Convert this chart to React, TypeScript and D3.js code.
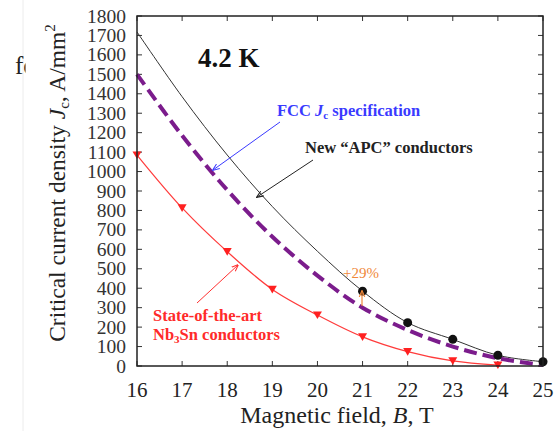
import React from "react";
import * as d3 from "d3";

const fields = [16, 17, 18, 19, 20, 21, 22, 23, 24, 25];
const apcCurve = [1718, 1385, 1085, 820, 590, 385, 223, 137, 55, 22];
const apcMarkerFields = [21, 22, 23, 24, 25];
const apcMarkers = [385, 223, 137, 55, 22];
const fccSpec = [1500, 1185, 905, 665, 465, 300, 185, 100, 40, 5];
const nb3snFields = [16, 17, 18, 19, 20, 21, 22, 23, 24];
const nb3sn = [1085, 813, 588, 394, 262, 150, 74, 26, 5];
const xTicks = [16, 17, 18, 19, 20, 21, 22, 23, 24, 25];
const yTicks = d3.range(0, 1801, 100);

const W = 554, H = 431;
const L = 137, R = 543, T = 16, B = 366;
const SERIF = "'Liberation Serif', 'DejaVu Serif', serif";

export default function App() {
  const x = d3.scaleLinear().domain([16, 25]).range([L, R]);
  const y = d3.scaleLinear().domain([0, 1800]).range([B, T]);
  const line = d3.line<[number, number]>()
    .x((d) => x(d[0]))
    .y((d) => y(d[1]))
    .curve(d3.curveCatmullRom);
  const apcPts = fields.map((f, i) => [f, apcCurve[i]] as [number, number]);
  const fccPts = fields.map((f, i) => [f, fccSpec[i]] as [number, number]);
  const redPts = nb3snFields.map((f, i) => [f, nb3sn[i]] as [number, number]);
  const tri = (cx: number, cy: number, s: number) =>
    `M${cx - s},${cy - s * 0.8}L${cx + s},${cy - s * 0.8}L${cx},${cy + s * 0.9}Z`;

  return (
    <svg width={W} height={H} style={{ position: "absolute", left: 0, top: 0, background: "#fff", fontFamily: SERIF }}>
      <defs>
        <marker id="ah-blue" viewBox="0 0 10 10" refX="9" refY="5" markerWidth="7" markerHeight="7" orient="auto">
          <path d="M0,1L10,5L0,9" fill="none" stroke="#3a3aff" strokeWidth="1.5" />
        </marker>
        <marker id="ah-black" viewBox="0 0 10 10" refX="9" refY="5" markerWidth="7" markerHeight="7" orient="auto">
          <path d="M0,1L10,5L0,9" fill="none" stroke="#222" strokeWidth="1.5" />
        </marker>
        <marker id="ah-red" viewBox="0 0 10 10" refX="9" refY="5" markerWidth="7" markerHeight="7" orient="auto">
          <path d="M0,1L10,5L0,9" fill="none" stroke="#ff3030" strokeWidth="1.5" />
        </marker>
        <marker id="ah-orange" viewBox="0 0 10 10" refX="9" refY="5" markerWidth="6" markerHeight="6" orient="auto">
          <path d="M0,1L10,5L0,9" fill="none" stroke="#f0883a" strokeWidth="1.5" />
        </marker>
        <clipPath id="clipfo">
          <rect x={0} y={0} width={25.5} height={H} />
        </clipPath>
      </defs>
      <rect x={0} y={0} width={W} height={H} fill="#fff" />
      <line x1={23} x2={23} y1={0} y2={H} stroke="#ececec" strokeWidth={1} />
      <text x={15} y={74} fontSize={25} fill="#222" fontFamily={SERIF} clipPath="url(#clipfo)">fo</text>

      {/* ticks */}
      {xTicks.map((t) => (
        <g key={"xt" + t}>
          <line x1={x(t)} x2={x(t)} y1={B} y2={B - 5} stroke="#333" strokeWidth={1} />
          <line x1={x(t)} x2={x(t)} y1={T} y2={T + 5} stroke="#333" strokeWidth={1} />
          <text x={x(t)} y={397} fontSize={21} textAnchor="middle" fill="#222" fontFamily={SERIF}>{t}</text>
        </g>
      ))}
      {yTicks.map((t) => (
        <g key={"yt" + t}>
          <line x1={L} x2={L + 5} y1={y(t)} y2={y(t)} stroke="#333" strokeWidth={1} />
          <line x1={R} x2={R - 5} y1={y(t)} y2={y(t)} stroke="#333" strokeWidth={1} />
          <text x={126} y={y(t) + 6.5} fontSize={19.5} textAnchor="end" fill="#333" fontFamily={SERIF}>{t}</text>
        </g>
      ))}

      {/* lines */}
      <path d={line(redPts) || ""} fill="none" stroke="#ff3b3b" strokeWidth={1.2} />
      <path d={line(apcPts) || ""} fill="none" stroke="#333" strokeWidth={1} />
      <path d={line(fccPts) || ""} fill="none" stroke="#7b1c8c" strokeWidth={4} strokeDasharray="13 6" />

      {apcMarkerFields.map((f, i) => (
        <circle key={"c" + f} cx={x(f)} cy={y(apcMarkers[i])} r={4.5} fill="#111" />
      ))}
      {nb3snFields.map((f, i) => (
        <path key={"t" + f} d={tri(x(f), y(nb3sn[i]), 4.5)} fill="#ff2020" />
      ))}

      <rect x={L} y={T} width={R - L} height={B - T} fill="none" stroke="#222" strokeWidth={1.5} />

      {/* annotations */}
      <text x={198} y={67} fontSize={27} fontWeight="bold" fill="#111" fontFamily={SERIF}>4.2 K</text>

      <text x={277} y={116} fontSize={16.5} fontWeight="bold" fill="#3a3aff" fontFamily={SERIF}>
        FCC <tspan fontStyle="italic">J</tspan><tspan fontSize={11} dy={3}>c</tspan><tspan dy={-3}> specification</tspan>
      </text>
      <line x1={280} y1={122} x2={213} y2={170} stroke="#3a3aff" strokeWidth={1} markerEnd="url(#ah-blue)" />

      <text x={305} y={153} fontSize={16.5} fontWeight="bold" fill="#222" fontFamily={SERIF}>New “APC” conductors</text>
      <line x1={313} y1={160} x2={257} y2={197} stroke="#222" strokeWidth={1} markerEnd="url(#ah-black)" />

      <text x={343} y={278} fontSize={15} fill="#f0883a" fontFamily={SERIF}>+29%</text>
      <line x1={362} y1={306} x2={362} y2={291} stroke="#f0883a" strokeWidth={1.2} markerEnd="url(#ah-orange)" />

      <text x={153} y={321} fontSize={16.5} fontWeight="bold" fill="#ff2a2a" fontFamily={SERIF}>State-of-the-art</text>
      <text x={153} y={340} fontSize={16.5} fontWeight="bold" fill="#ff2a2a" fontFamily={SERIF}>
        Nb<tspan fontSize={11} dy={3}>3</tspan><tspan dy={-3}>Sn conductors</tspan>
      </text>
      <line x1={197} y1={303} x2={238} y2={265} stroke="#ff3030" strokeWidth={1} markerEnd="url(#ah-red)" />

      {/* axis titles */}
      <text x={337} y={423} fontSize={24} textAnchor="middle" fill="#222" fontFamily={SERIF}>
        Magnetic field, <tspan fontStyle="italic">B</tspan>, T
      </text>
      <text transform="translate(65,183) rotate(-90)" fontSize={23.5} textAnchor="middle" fill="#222" fontFamily={SERIF}>
        Critical current density <tspan fontStyle="italic">J</tspan><tspan fontSize={15} dy={4}>c</tspan><tspan dy={-4}>, A/mm</tspan><tspan fontSize={15} dy={-10}>2</tspan>
      </text>
    </svg>
  );
}
